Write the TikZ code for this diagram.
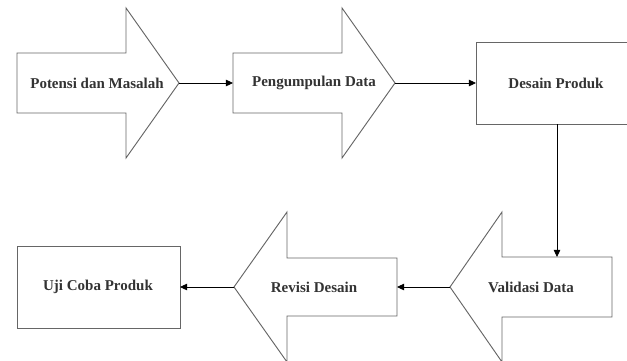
\documentclass[tikz,border=0pt]{standalone}
\usepackage{fontspec}
\setmainfont{Liberation Serif}
\usetikzlibrary{arrows.meta}
\begin{document}
\begin{tikzpicture}[x=0.03cm,y=-0.03cm,
  shapeline/.style={draw=black!60,line width=0.8pt,line join=miter},
  lbl/.style={font=\fontsize{12.8}{14}\selectfont\bfseries,text=black!80,inner sep=0pt},
  conn/.style={draw=black,line width=0.7pt,-{Triangle[length=6pt,width=5.5pt]}}]
\useasboundingbox (0,0) rectangle (627,360);
\clip (0,0) rectangle (627,360);
% shapes
\draw[shapeline] (17,53)--(126,53)--(126,8)--(179,83)--(126,158)--(126,113)--(17,113)--cycle;
\draw[shapeline] (233,53)--(342,53)--(342,8)--(395,83)--(342,158)--(342,113)--(233,113)--cycle;
\draw[shapeline] (476,42) rectangle (636,124);
\draw[shapeline] (612,257)--(502,257)--(502,212)--(450,287)--(502,362)--(502,317)--(612,317)--cycle;
\draw[shapeline] (397,258)--(287,258)--(287,212)--(234,287)--(287,362)--(287,316)--(397,316)--cycle;
\draw[shapeline] (17,246) rectangle (180,328);
% anchor coordinates
\coordinate (tip1) at (179,83);
\coordinate (in2) at (233,83);
\coordinate (tip2) at (395,83);
\coordinate (in3) at (476,83);
\coordinate (out3) at (557,124);
\coordinate (in4) at (557,257);
\coordinate (tip4) at (450,287);
\coordinate (in5) at (397,287);
\coordinate (tip5) at (234,287);
\coordinate (in6) at (180,287);
% labels
\node[lbl] (potensi) at (97,83) {Potensi dan Masalah};
\node[lbl] (pengumpulan) at (314,83) {Pengumpulan Data};
\node[lbl] (desain) at (556,83) {Desain Produk};
\node[lbl] (validasi) at (531,287) {Validasi Data};
\node[lbl] (revisi) at (314,287) {Revisi Desain};
\node[lbl] (uji) at (98,287) {Uji Coba Produk};
% connectors
\draw[conn] (tip1) -- (in2);
\draw[conn] (tip2) -- (in3);
\draw[conn] (out3) -- (in4);
\draw[conn] (tip4) -- (in5);
\draw[conn] (tip5) -- (in6);
\end{tikzpicture}
\end{document}
